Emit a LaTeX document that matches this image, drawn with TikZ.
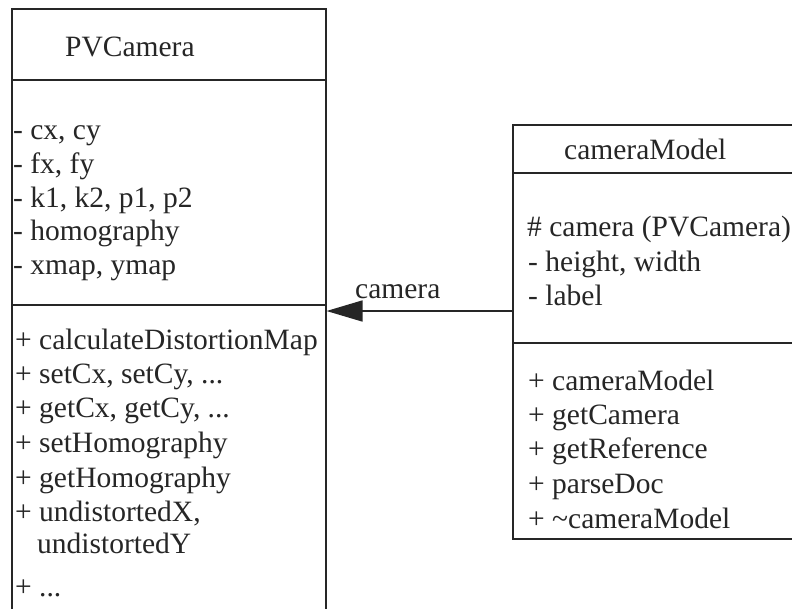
\documentclass[tikz,border=0pt]{standalone}
\usepackage{fontspec}
\newfontfamily\umlfont{Liberation Serif}
\usetikzlibrary{arrows.meta}
\tikzset{
  boxline/.style={line width=1.5pt, draw=black!85},
  classbox/.style={boxline, rectangle, anchor=north west, inner sep=0pt, fill=white},
  txt/.style={anchor=base west, inner sep=0pt, font=\umlfont\fontsize{29.5}{34}\selectfont, text=black!85},
  assoc/.style={line width=1.5pt, draw=black!85, -{Triangle[length=36pt,width=21pt]}}
}
\begin{document}
\begin{tikzpicture}[x=1pt,y=-1pt]
\useasboundingbox (0,0) rectangle (792,608);
\clip (0,0) rectangle (792,608);
\fill[white] (0,0) rectangle (792,608);
% class boxes
\node[classbox, minimum width=314pt, minimum height=620pt] (pv) at (11,8) {};
\node[classbox, minimum width=300pt, minimum height=414pt] (cm) at (512,124) {};
% dividers
\coordinate (pvd1) at (11,80);
\coordinate (pvd2) at (11,305);
\draw[boxline] (pvd1) -- (pvd1 -| pv.east);
\draw[boxline] (pvd2) -- (pvd2 -| pv.east);
\coordinate (cmd1) at (512,173);
\coordinate (cmd2) at (512,343);
\draw[boxline] (cmd1) -- (cmd1 -| cm.east);
\draw[boxline] (cmd2) -- (cmd2 -| cm.east);
% PVCamera texts
\node[txt] (pvtitle) at (65,56) {PVCamera};
\node[txt] (pva1) at (13,139) {- cx, cy};
\node[txt] (pva2) at (13,173) {- fx, fy};
\node[txt] (pva3) at (13,207) {- k1, k2, p1, p2};
\node[txt] (pva4) at (13,240) {- homography};
\node[txt] (pva5) at (13,274) {- xmap, ymap};
\node[txt] (pvm1) at (15,349) {+ calculateDistortionMap};
\node[txt] (pvm2) at (15,383) {+ setCx, setCy, ...};
\node[txt] (pvm3) at (15,417) {+ getCx, getCy, ...};
\node[txt] (pvm4) at (15,452) {+ setHomography};
\node[txt] (pvm5) at (15,487) {+ getHomography};
\node[txt] (pvm6) at (15,521) {+ undistortedX,};
\node[txt] (pvm7) at (37,553) {undistortedY};
\node[txt] (pvm8) at (15,596) {+ ...};
% cameraModel texts
\node[txt] (cmtitle) at (564,159) {cameraModel};
\node[txt] (cma1) at (527,236) {\# camera (PVCamera)};
\node[txt] (cma2) at (528,271) {- height, width};
\node[txt] (cma3) at (528,305) {- label};
\node[txt] (cmm1) at (528,390) {+ cameraModel};
\node[txt] (cmm2) at (528,424) {+ getCamera};
\node[txt] (cmm3) at (528,458) {+ getReference};
\node[txt] (cmm4) at (528,493) {+ parseDoc};
\node[txt] (cmm5) at (528,528) {+ \textasciitilde cameraModel};
% association
\coordinate (arr) at (0,311);
\draw[assoc] (arr -| cm.west) -- (arr -| pv.east);
\node[txt] (assoclabel) at (355,298) {camera};
\end{tikzpicture}
\end{document}
